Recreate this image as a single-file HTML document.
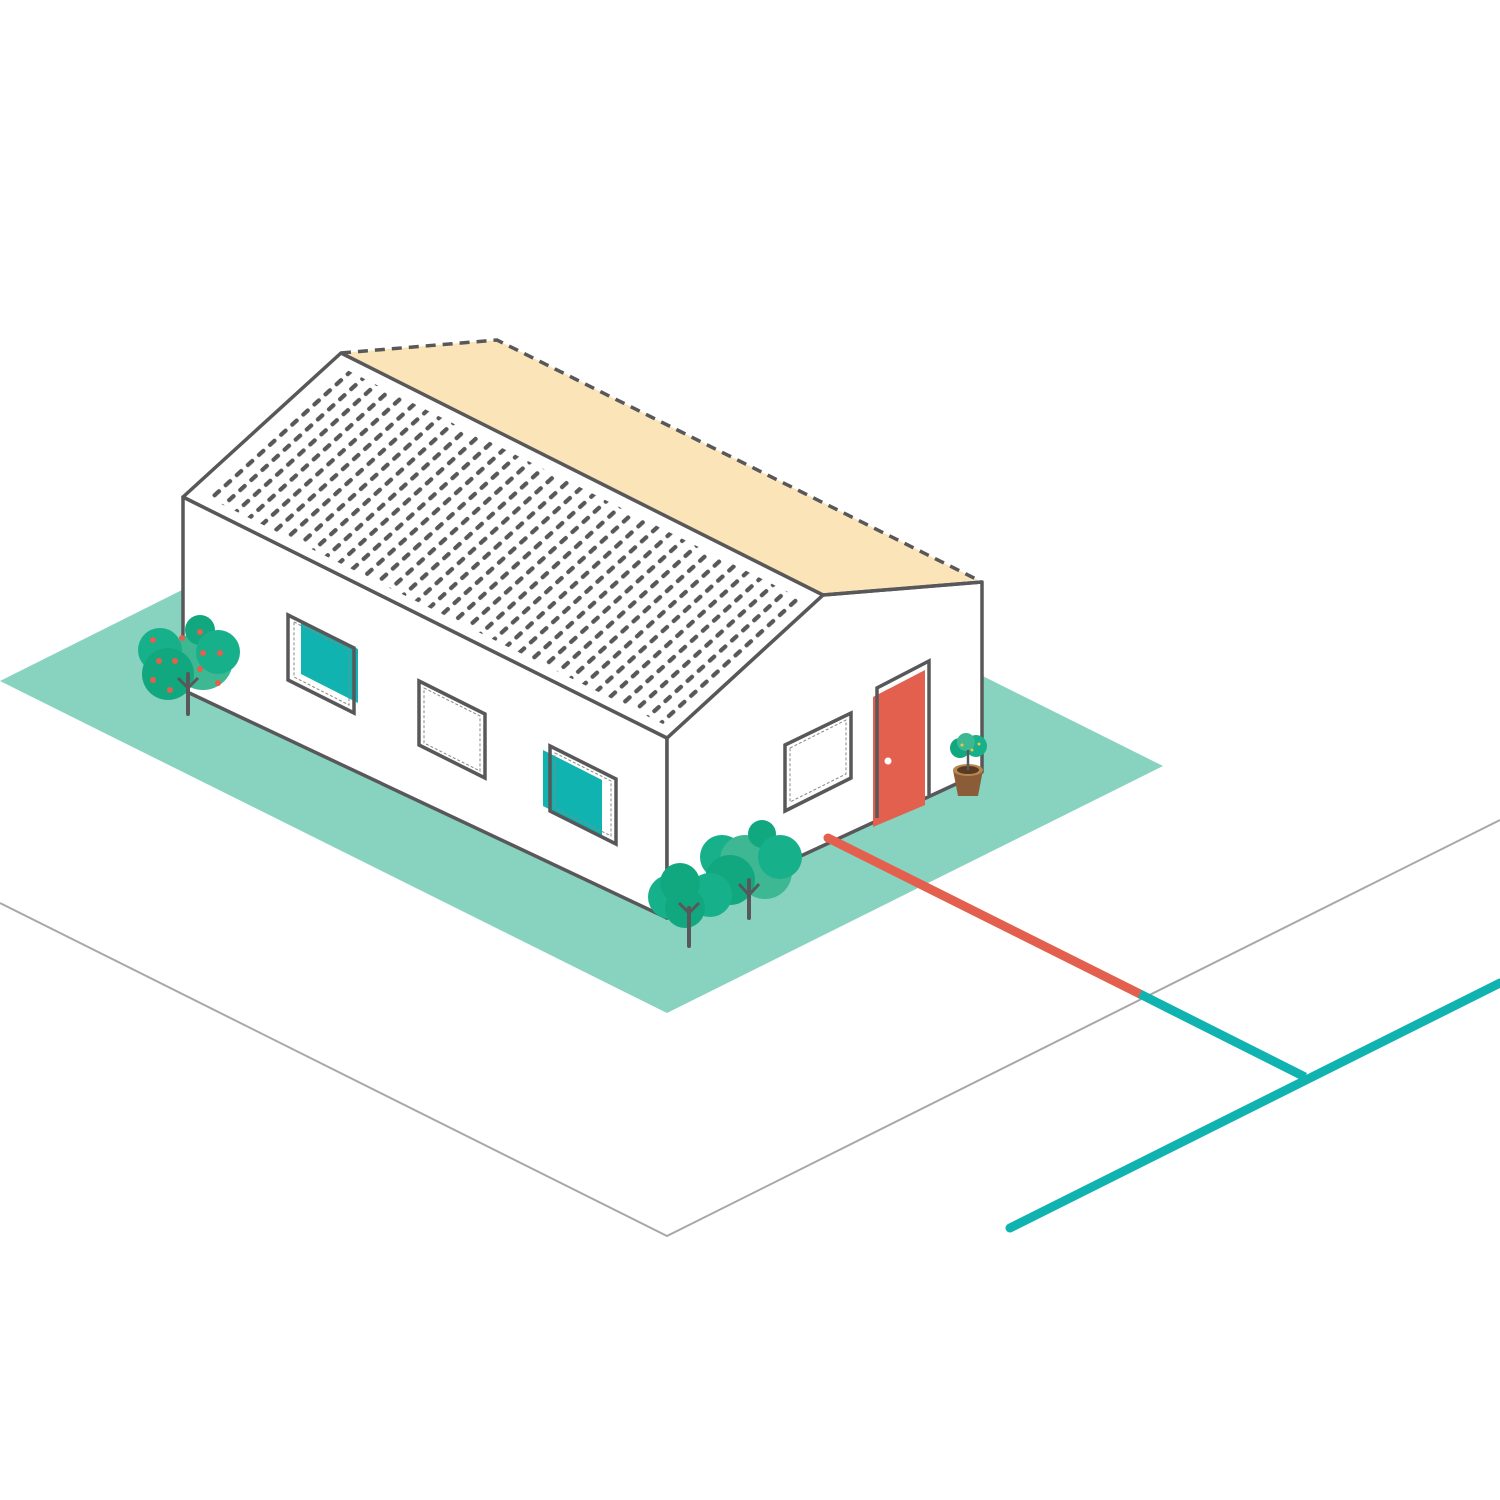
<!DOCTYPE html>
<html><head><meta charset="utf-8"><style>html,body{margin:0;padding:0;background:#fff}svg{display:block}</style></head>
<body>
<svg width="1500" height="1500" viewBox="0 0 1500 1500" xmlns="http://www.w3.org/2000/svg">
<defs>
<pattern id="tiles" patternUnits="userSpaceOnUse" width="15" height="26.8" patternTransform="translate(183,497) rotate(-42.3)">
<rect x="0" y="4.5" width="10" height="4.2" rx="2" fill="#58585a"/>
<rect x="7.5" y="17.9" width="10" height="4.2" rx="2" fill="#58585a"/>
<rect x="-7.5" y="17.9" width="10" height="4.2" rx="2" fill="#58585a"/>
</pattern>
<clipPath id="roofclip"><polygon points="203,495 343,368 806,601 667,726"/></clipPath>
</defs>
<polyline points="0,903 667,1236 1500,820" fill="none" stroke="#a8a8a8" stroke-width="2"/>
<polygon points="0,681 496,433 1163,766 667,1013" fill="#88d3bf"/>
<polygon points="341,353 497,340 978,580 823,595" fill="#fae4b8"/>
<polyline points="341,353 497,340 978,580" fill="none" stroke="#58585a" stroke-width="3.5" stroke-dasharray="10 7"/>
<polygon points="183,497 667,738 667,918 183,690" fill="#fff" stroke="#58585a" stroke-width="3.5" stroke-linejoin="round"/>
<polygon points="667,738 823,595 982,582 982,772 667,918" fill="#fff" stroke="#58585a" stroke-width="3.5" stroke-linejoin="round"/>
<line x1="828" y1="838" x2="1140" y2="994" stroke="#e2604d" stroke-width="9" stroke-linecap="round"/>
<line x1="1140" y1="994" x2="1305" y2="1077" stroke="#11b3b0" stroke-width="9"/>
<line x1="1010" y1="1228" x2="1500" y2="983" stroke="#11b3b0" stroke-width="9" stroke-linecap="round"/>
<polygon points="183,497 341,353 823,595 667,738" fill="#fff" stroke="#58585a" stroke-width="3.5" stroke-linejoin="round"/>
<rect x="0" y="300" width="1000" height="500" fill="url(#tiles)" clip-path="url(#roofclip)"/>
<line x1="823" y1="595" x2="982" y2="582" stroke="#58585a" stroke-width="3.5"/>
<polygon points="301,620 358,649 358,703 301,674" fill="#11b3b0"/>
<polygon points="288,615 354,648 354,713 288,680" fill="none" stroke="#58585a" stroke-width="3.5"/>
<polygon points="294,622 349,650 349,705 294,677" fill="none" stroke="#888" stroke-width="1" stroke-dasharray="3 2"/>
<polygon points="419,681 485,714 485,778 419,745" fill="none" stroke="#58585a" stroke-width="3.5"/>
<polygon points="424,688 480,716 480,771 424,743" fill="none" stroke="#888" stroke-width="1" stroke-dasharray="3 2"/>
<polygon points="543,750 602,780 602,836 543,806" fill="#11b3b0"/>
<polygon points="550,746 616,779 616,844 550,811" fill="none" stroke="#58585a" stroke-width="3.5"/>
<polygon points="555,753 611,781 611,836 555,808" fill="none" stroke="#888" stroke-width="1" stroke-dasharray="3 2"/>
<polygon points="785,745 851,713 851,778 785,811" fill="none" stroke="#58585a" stroke-width="3.5"/>
<polygon points="790,748 846,720 846,774 790,802" fill="none" stroke="#888" stroke-width="1" stroke-dasharray="3 2"/>
<polygon points="873,697 925,670 925,805 873,827" fill="#e2604d"/>
<polyline points="877,818 877,688 929,661 929,795" fill="none" stroke="#58585a" stroke-width="3.5"/>
<circle cx="888" cy="761" r="3.5" fill="#fff"/>
<polygon points="953,770 983,770 978,796 958,796" fill="#8a5c38"/>
<ellipse cx="968" cy="770" rx="15" ry="6" fill="#b5864f"/>
<ellipse cx="968" cy="770" rx="11" ry="4" fill="#5a3a22"/>
<circle cx="960" cy="748" r="10" fill="#12a87f"/><circle cx="976" cy="746" r="11" fill="#16b08a"/><circle cx="966" cy="742" r="9" fill="#3db893"/>
<line x1="968" y1="770" x2="968" y2="750" stroke="#58585a" stroke-width="2.5"/>
<circle cx="962" cy="745" r="1.5" fill="#f5c242"/><circle cx="972" cy="750" r="1.5" fill="#f5c242"/><circle cx="979" cy="744" r="1.5" fill="#f5c242"/>
<circle cx="203" cy="660" r="30" fill="#3db893"/>
<circle cx="160" cy="650" r="22" fill="#16b08a"/>
<circle cx="200" cy="630" r="15" fill="#12a87f"/>
<circle cx="218" cy="652" r="22" fill="#16b08a"/>
<circle cx="168" cy="674" r="26" fill="#12a87f"/>
<line x1="188" y1="674" x2="188" y2="714" stroke="#58585a" stroke-width="4" stroke-linecap="round"/>
<polyline points="178,678 188,688 198,678" fill="none" stroke="#58585a" stroke-width="3"/>
<g fill="#e2604d"><circle cx="153" cy="640" r="3"/><circle cx="182" cy="638" r="3"/><circle cx="200" cy="632" r="3"/><circle cx="203" cy="653" r="3"/><circle cx="220" cy="653" r="3"/><circle cx="159" cy="661" r="3"/><circle cx="175" cy="661" r="3"/><circle cx="200" cy="669" r="3"/><circle cx="153" cy="680" r="3"/><circle cx="170" cy="690" r="3"/><circle cx="218" cy="683" r="3"/></g>
<circle cx="765" cy="872" r="27" fill="#3db893"/>
<circle cx="722" cy="857" r="22" fill="#16b08a"/>
<circle cx="745" cy="860" r="25" fill="#3db893"/>
<circle cx="762" cy="834" r="14" fill="#12a87f"/>
<circle cx="780" cy="857" r="22" fill="#16b08a"/>
<circle cx="730" cy="880" r="25" fill="#12a87f"/>
<circle cx="710" cy="895" r="22" fill="#16b08a"/>
<circle cx="670" cy="897" r="22" fill="#16b08a"/>
<circle cx="680" cy="883" r="20" fill="#12a87f"/>
<circle cx="685" cy="908" r="20" fill="#12a87f"/>
<line x1="749" y1="880" x2="749" y2="918" stroke="#58585a" stroke-width="4" stroke-linecap="round"/>
<polyline points="739,884 749,895 759,884" fill="none" stroke="#58585a" stroke-width="3"/>
<line x1="689" y1="908" x2="689" y2="946" stroke="#58585a" stroke-width="4" stroke-linecap="round"/>
<polyline points="679,903 689,913 699,903" fill="none" stroke="#58585a" stroke-width="3"/>
</svg>
</body></html>
